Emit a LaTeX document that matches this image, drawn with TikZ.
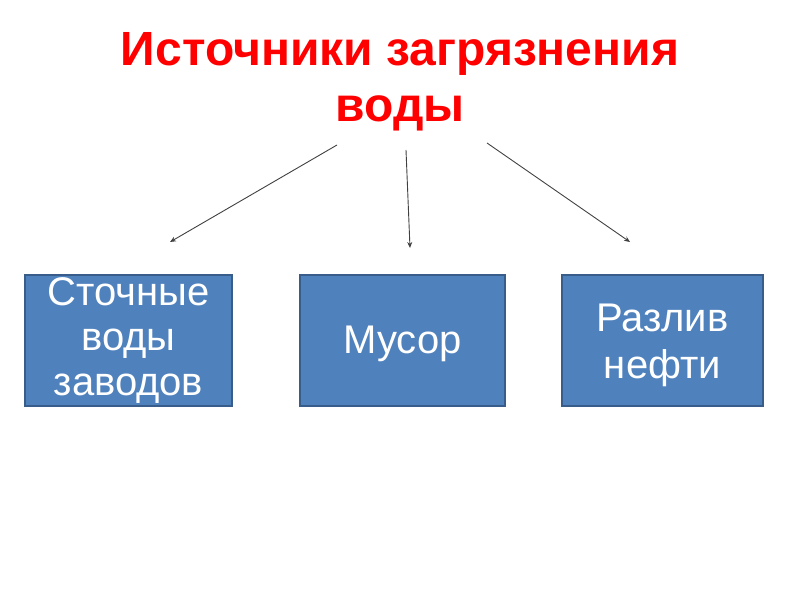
\documentclass[tikz,border=0pt]{standalone}
\usepackage{fontspec}
\setmainfont{Liberation Sans}
\usetikzlibrary{arrows.meta}
\definecolor{boxfill}{HTML}{4F81BD}
\definecolor{boxline}{HTML}{385D8A}
\definecolor{titlered}{HTML}{FF0000}
\tikzset{
  sourcebox/.style={draw=boxline, line width=1.5pt, fill=boxfill, text=white,
    minimum height=131pt, inner sep=0pt, align=center,
    font=\fontsize{40}{45}\selectfont},
  pointer/.style={draw=black!75, line width=0.9pt, -{Stealth[length=6pt,width=5pt]}}
}
\begin{document}
\begin{tikzpicture}[x=1pt,y=1pt]
  \useasboundingbox (0,0) rectangle (800,600);
  % title
  \node[text=titlered, font=\fontsize{48}{56}\selectfont\bfseries, align=center]
    (title) at (400,518) {Источники загрязнения\\воды};
  % boxes
  \node[sourcebox, minimum width=207pt] (waste) at (128.5,259.5) {Сточные\\воды\\заводов};
  \node[sourcebox, minimum width=205pt] (trash) at (402.5,259.5) {\rule{0pt}{35pt}Мусор};
  \node[sourcebox, minimum width=201pt, font=\fontsize{40}{47}\selectfont] (oil) at (662.5,259.5) {\rule{0pt}{37pt}Разлив\\нефти};
  % arrows
  \coordinate (s1) at (337,455);
  \coordinate (e1) at (170,358);
  \coordinate (s2) at (406,450);
  \coordinate (e2) at (410,352);
  \coordinate (s3) at (487,457);
  \coordinate (e3) at (630,358);
  \draw[pointer] (s1) -- (e1);
  \draw[pointer] (s2) -- (e2);
  \draw[pointer] (s3) -- (e3);
\end{tikzpicture}
\end{document}
